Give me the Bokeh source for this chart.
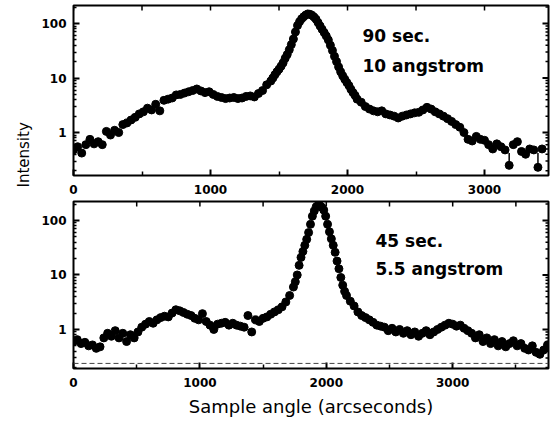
import math
from bokeh.plotting import figure
from bokeh.models import Range1d, FixedTicker, Label, Span, Title
from bokeh.layouts import column
from bokeh.embed import file_html
from bokeh.resources import INLINE

# ---------------- data ----------------
top_angle = [0, 30, 60, 90, 120, 150, 180, 210, 240, 270, 300, 330, 360, 390, 420, 450, 480, 510, 540, 570,
             600, 630, 660, 690, 720, 750, 780, 810, 840, 870, 900, 930, 960, 990, 1020, 1050, 1080, 1110, 1140, 1170,
             1200, 1230, 1260, 1290, 1320, 1350, 1380, 1410,
             1440, 1455, 1470, 1485, 1500, 1515, 1530, 1545, 1560, 1575, 1590, 1605, 1620, 1635, 1650, 1665, 1680, 1695,
             1710, 1725, 1740, 1755, 1770, 1785, 1800, 1815, 1830, 1845, 1860, 1875, 1890, 1905, 1920, 1935, 1950, 1965,
             1980, 1995, 2010, 2025, 2040, 2055, 2070,
             2100, 2130, 2160, 2190, 2220, 2250, 2280, 2310, 2340, 2370, 2400, 2430, 2460, 2490, 2520, 2550, 2580, 2610,
             2640, 2670, 2700, 2730, 2760, 2790, 2820, 2850, 2880, 2910, 2940, 2970, 3000, 3030, 3060, 3090, 3120, 3150,
             3180, 3210, 3240, 3270, 3300, 3330, 3360, 3390, 3420]
top_intensity = [0.48, 0.55, 0.42, 0.6, 0.75, 0.62, 0.68, 0.6, 1.05, 0.9, 1.1, 1.0, 1.4, 1.5, 1.7, 1.9, 2.2, 2.4, 2.8, 2.6,
                 3.3, 2.5, 3.9, 4.1, 4.3, 4.9, 5.0, 5.3, 5.6, 5.9, 6.3, 5.8, 5.4, 5.6, 5.0, 4.6, 4.4, 4.2, 4.3, 4.4,
                 4.2, 4.3, 4.6, 4.7, 4.5, 5.2, 5.9, 7.5,
                 8.8, 10, 11.5, 13, 14.5, 16.5, 19, 23, 27, 33, 41, 52, 70, 92, 108, 122, 133, 143,
                 150, 148, 142, 132, 120, 104, 90, 78, 68, 59, 50, 40, 32, 25, 20, 16, 13, 11,
                 9.5, 8.3, 7.3, 6.2, 5.4, 4.8, 4.1,
                 3.6, 3.0, 2.7, 2.5, 2.4, 2.5, 2.2, 2.1, 2.0, 1.85, 2.0, 2.1, 2.2, 2.3, 2.35, 2.6, 2.9, 2.7,
                 2.4, 2.2, 2.0, 1.8, 1.6, 1.4, 1.25, 1.0, 0.75, 0.7, 0.85, 0.75, 0.72, 0.6, 0.5, 0.62, 0.55, 0.48,
                 0.25, 0.6, 0.68, 0.45, 0.4, 0.5, 0.48, 0.23, 0.5]

bottom_angle = [0, 30, 60, 90, 120, 150, 180, 210, 240, 270, 300, 330, 360, 390, 420, 450, 480, 510, 540, 570,
                600, 630, 660, 690, 720, 750, 780, 810, 840, 870, 900, 930, 960, 990, 1020, 1050, 1080, 1110, 1140, 1170,
                1200, 1230, 1260, 1290, 1320, 1350, 1380, 1410, 1440, 1470, 1500, 1530, 1560, 1590, 1620, 1650, 1680,
                1710, 1740,
                1755, 1770, 1785, 1800, 1815, 1830, 1845, 1860, 1875, 1890, 1905, 1920, 1935, 1950, 1965, 1980, 1995,
                2010, 2025, 2040, 2055, 2070, 2085, 2100, 2115, 2130, 2145,
                2160, 2190, 2220, 2250, 2280, 2310, 2340, 2370, 2400, 2430, 2460, 2490, 2520, 2550, 2580, 2610, 2640,
                2670, 2700, 2730, 2760, 2790, 2820, 2850, 2880, 2910, 2940, 2970, 3000, 3030, 3060, 3090, 3120, 3150,
                3180, 3210, 3240, 3270, 3300, 3330, 3360, 3390, 3420, 3450, 3480, 3510, 3540, 3570, 3600, 3630, 3660,
                3690, 3720, 3750]
bottom_intensity = [0.6, 0.65, 0.55, 0.58, 0.5, 0.52, 0.45, 0.48, 0.7, 0.85, 0.75, 0.95, 0.7, 0.85, 0.6, 0.8, 0.7, 0.9,
                    1.1, 1.25, 1.4, 1.3, 1.5, 1.65, 1.75, 1.7, 2.0, 2.3, 2.2, 2.05, 1.9, 1.8, 1.6, 1.5, 1.95, 1.4, 1.2,
                    1.0, 1.25, 1.3, 1.35, 1.2, 1.3, 1.2, 1.15, 1.1, 1.8, 0.9, 1.5, 1.4, 1.6, 1.7, 1.9, 2.1, 2.3, 2.6,
                    3.2, 4.2, 6.0,
                    7.5, 10, 15, 21, 27, 35, 45, 60, 85, 120, 150, 178, 190, 186, 175, 155, 120, 85, 62, 46, 35, 26,
                    18, 13, 9, 6.5, 5.0,
                    4.2, 3.3, 2.7, 2.1, 1.8, 1.65, 1.5, 1.35, 1.2, 1.15, 1.1, 0.95, 1.05, 0.9, 1.0, 0.85, 0.95, 0.8,
                    0.9, 0.75, 0.85, 0.95, 0.8, 0.9, 1.0, 1.1, 1.2, 1.3, 1.25, 1.15, 1.2, 1.05, 0.95, 0.85, 0.7, 0.8,
                    0.6, 0.7, 0.55, 0.65, 0.5, 0.6, 0.48, 0.55, 0.62, 0.5, 0.55, 0.45, 0.42, 0.5, 0.38, 0.35, 0.42,
                    0.52]

err_angle = [3180, 3390]
err_low = [0.25, 0.23]
err_high = [0.42, 0.42]

x_ticks = [0, 1000, 2000, 3000]
x_minor = [500, 1500, 2500, 3500]
y_ticks = [1, 10, 100]
y_labels = {1: "1", 10: "10", 100: "100"}
y_minor = [0.2, 0.3, 0.4, 0.5, 0.6, 0.7, 0.8, 0.9, 2, 3, 4, 5, 6, 7, 8, 9, 20, 30, 40, 50, 60, 70, 80, 90, 200]

top_notes = ["90 sec.", "10 angstrom"]
bottom_notes = ["45 sec.", "5.5 angstrom"]
x_title = "Sample angle (arcseconds)"
y_title = "Intensity"

assert len(top_angle) == len(top_intensity), (len(top_angle), len(top_intensity))
assert len(bottom_angle) == len(bottom_intensity), (len(bottom_angle), len(bottom_intensity))

FONT = "DejaVu Sans"


def style_axis(ax, minor_len):
    ax.axis_line_color = None
    ax.major_tick_in = 6
    ax.major_tick_out = 0
    ax.major_tick_line_width = 2
    ax.minor_tick_in = minor_len
    ax.minor_tick_out = 0
    ax.minor_tick_line_width = 1.5
    ax.major_label_text_font = FONT
    ax.major_label_text_font_style = "bold"
    ax.major_label_text_font_size = "12px"
    ax.major_label_text_color = "black"


def make_panel(height, b_top, b_bottom, x_end, y_start, y_end, angle, intensity):
    p = figure(width=551, height=height, output_backend="svg", toolbar_location=None,
               x_range=Range1d(0, x_end), y_range=Range1d(y_start, y_end), y_axis_type="log",
               min_border_left=73, min_border_right=3, min_border_top=b_top, min_border_bottom=b_bottom)
    p.xgrid.visible = False
    p.ygrid.visible = False
    p.outline_line_color = "black"
    p.outline_line_width = 2
    p.background_fill_color = "white"
    p.border_fill_color = "white"

    p.xaxis[0].ticker = FixedTicker(ticks=x_ticks, minor_ticks=x_minor)
    p.yaxis[0].ticker = FixedTicker(ticks=y_ticks, minor_ticks=y_minor)
    p.yaxis[0].major_label_overrides = y_labels
    style_axis(p.xaxis[0], 4)
    p.xaxis[0].major_label_standoff = 9
    style_axis(p.yaxis[0], 3)
    p.yaxis[0].major_label_standoff = 7

    # mirrored ticks on the top and right edges (rays of fixed screen length)
    xt_all = x_ticks + x_minor
    p.ray(x=xt_all, y=[y_end] * len(xt_all), length=5, length_units="screen",
          angle=-math.pi / 2, line_color="black", line_width=1.5)
    p.ray(x=[x_end] * len(y_ticks), y=y_ticks, length=6, length_units="screen",
          angle=math.pi, line_color="black", line_width=2)
    p.ray(x=[x_end] * len(y_minor), y=y_minor, length=3, length_units="screen",
          angle=math.pi, line_color="black", line_width=1.5)

    p.scatter(angle, intensity, size=8, marker="circle", fill_color="black", line_color="black")
    return p


p1 = make_panel(200, 5, 25, 3467, 0.163, 214, top_angle, top_intensity)
p1.segment(err_angle, err_low, err_angle, err_high, line_color="black", line_width=1.5)
p1.add_layout(Label(x=289, y=130, x_units="screen", y_units="screen", text=top_notes[0],
                    text_font=FONT, text_font_style="bold", text_font_size="17px", text_color="black"))
p1.add_layout(Label(x=289, y=100, x_units="screen", y_units="screen", text=top_notes[1],
                    text_font=FONT, text_font_style="bold", text_font_size="17px", text_color="black"))
p1.add_layout(Title(text=y_title, align="left", offset=-12, standoff=12,
                    text_font=FONT, text_font_style="normal", text_font_size="15px", text_color="black"), "left")

p2 = make_panel(225, 1, 57, 3758, 0.192, 223, bottom_angle, bottom_intensity)
p2.add_layout(Span(location=0.238, dimension="width", line_color="#444444", line_width=1, line_dash="5 3"))
p2.add_layout(Label(x=302, y=118, x_units="screen", y_units="screen", text=bottom_notes[0],
                    text_font=FONT, text_font_style="bold", text_font_size="17px", text_color="black"))
p2.add_layout(Label(x=302, y=90, x_units="screen", y_units="screen", text=bottom_notes[1],
                    text_font=FONT, text_font_style="bold", text_font_size="17px", text_color="black"))
p2.xaxis[0].axis_label = x_title
p2.xaxis[0].axis_label_text_font = FONT
p2.xaxis[0].axis_label_text_font_style = "normal"
p2.xaxis[0].axis_label_text_font_size = "18px"
p2.xaxis[0].axis_label_text_color = "black"
p2.xaxis[0].axis_label_standoff = 6

layout = column(p1, p2, spacing=0)
open("out.html", "w").write(file_html(layout, INLINE))
